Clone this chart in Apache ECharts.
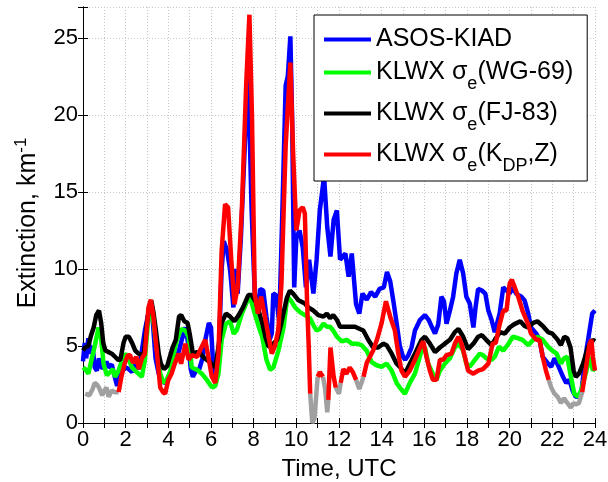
<!DOCTYPE html>
<html lang="en">
<head>
    <meta charset="UTF-8">
    <title>extinction</title>
    <script src="https://cdn.jsdelivr.net/npm/echarts@6/dist/echarts.min.js"></script>
    <style>
        html, body { margin: 0; padding: 0; background: #fff; }
        .box { width: 608px; height: 482px; }
    </style>
</head>
<body>
    <div class="box"></div>
    <script>
        // [hour UTC, extinction km^-1]
        var asos = [[0,4.0],[0.08,5.2],[0.15,4.2],[0.25,5.5],[0.35,4.5],[0.45,5.0],[0.55,3.6],[0.65,3.4],[0.75,4.2],[0.85,3.6],
            [1.0,3.6],[1.1,4.0],[1.2,3.6],[1.35,3.8],[1.45,3.2],[1.6,2.4],[1.7,3.2],[1.85,3.4],[2.0,3.6],[2.15,3.5],[2.3,3.3],
            [2.45,4.0],[2.6,3.5],[2.75,4.6],[2.9,6.0],[3.05,7.0],[3.15,7.7],[3.25,7.0],[3.4,4.2],[3.55,3.2],[3.7,2.7],[3.85,2.6],
            [4.0,3.0],[4.15,3.5],[4.3,3.9],[4.5,4.7],[4.65,5.5],[4.8,6.2],[4.95,5.0],[5.05,3.5],[5.15,3.0],[5.3,3.4],[5.45,3.5],
            [5.6,4.2],[5.75,5.5],[5.9,6.5],[6.0,6.2],[6.1,3.8],[6.25,2.8],[6.35,4.0],[6.5,10.0],[6.6,11.8],[6.75,11.2],[6.9,9.9],
            [7.05,7.5],[7.15,10.0],[7.25,8.4],[7.4,12.0],[7.6,18.5],[7.75,22.5],[7.9,14.0],[8.05,8.4],[8.2,7.2],[8.3,8.7],[8.45,8.6],
            [8.6,6.9],[8.75,5.4],[8.85,5.8],[8.92,8.4],[9.05,8.3],[9.2,6.5],[9.35,14.0],[9.5,21.9],[9.6,22.5],[9.72,25.1],[9.8,20.0],
            [9.9,8.8],[10.0,12.0],[10.15,12.5],[10.3,11.4],[10.45,8.8],[10.6,10.6],[10.8,8.4],[10.95,10.6],[11.1,13.8],[11.3,16.0],
            [11.45,12.7],[11.6,10.8],[11.75,13.2],[11.9,13.8],[12.05,10.6],[12.3,11.0],[12.45,9.5],[12.6,11.0],[12.8,7.7],[12.95,7.1],
            [13.1,8.4],[13.3,8.0],[13.5,8.5],[13.7,8.2],[13.9,8.7],[14.1,8.8],[14.25,9.8],[14.4,9.2],[14.55,7.9],[14.7,6.5],[14.85,5.0],
            [15.0,4.3],[15.1,4.1],[15.25,4.4],[15.4,4.9],[15.56,6.0],[15.8,6.7],[16.03,7.0],[16.2,6.7],[16.33,6.3],[16.5,5.8],[16.65,6.4],
            [16.8,8.2],[16.92,7.9],[17.04,6.45],[17.2,7.3],[17.35,8.2],[17.5,9.7],[17.66,10.6],[17.82,9.7],[17.97,8.2],[18.13,7.75],
            [18.3,6.2],[18.4,7.5],[18.52,8.7],[18.7,8.6],[18.86,8.4],[19.0,7.3],[19.15,6.7],[19.3,5.9],[19.53,7.1],[19.7,8.8],[19.85,8.6],
            [20.0,8.4],[20.15,8.8],[20.3,8.4],[20.55,8.2],[20.7,7.96],[20.87,7.1],[21.0,6.2],[21.25,5.8],[21.4,5.4],[21.55,4.3],[21.8,3.85],
            [21.95,3.65],[22.1,4.2],[22.3,3.65],[22.5,3.0],[22.65,2.6],[22.8,2.8],[22.95,2.1],[23.1,1.7],[23.25,1.7],[23.37,2.1],
            [23.55,4.3],[23.7,5.6],[23.87,7.1],[24.0,7.3]];

        var wg69 = [[0,3.6],[0.1,3.5],[0.25,3.2],[0.4,4.1],[0.55,5.0],[0.73,6.2],[0.84,5.6],[0.97,3.8],[1.12,3.1],[1.27,3.3],[1.4,3.5],
            [1.5,3.0],[1.67,3.4],[1.83,4.1],[1.98,4.5],[2.15,4.1],[2.3,3.6],[2.52,3.3],[2.76,3.0],[2.9,4.1],[3.05,6.6],[3.18,7.7],
            [3.3,6.6],[3.47,4.7],[3.62,3.2],[3.78,2.6],[3.93,2.8],[4.1,3.4],[4.25,4.5],[4.4,5.4],[4.6,6.1],[4.8,6.0],[4.95,5.6],[5.1,3.6],
            [5.35,3.45],[5.57,3.2],[5.8,2.8],[6.05,2.3],[6.2,2.4],[6.35,3.2],[6.5,5.4],[6.7,6.45],[6.9,6.6],[7.06,5.8],[7.2,6.0],[7.45,7.1],
            [7.75,8.1],[7.9,7.85],[8.05,7.1],[8.25,6.2],[8.4,5.6],[8.6,4.1],[8.77,3.45],[8.92,3.6],[9.16,4.7],[9.4,6.2],[9.58,8.2],
            [9.74,7.96],[9.94,7.5],[10.17,7.2],[10.4,7.0],[10.64,6.8],[10.8,6.35],[10.95,6.0],[11.1,6.1],[11.27,6.45],[11.43,6.25],
            [11.58,6.25],[11.73,6.0],[11.9,5.6],[12.13,5.3],[12.36,5.4],[12.6,5.15],[12.83,5.15],[13.06,5.05],[13.3,4.7],[13.53,3.95],
            [13.76,3.75],[14.0,3.65],[14.23,3.85],[14.47,3.4],[14.7,2.6],[14.85,2.3],[15.09,1.9],[15.32,2.6],[15.56,3.2],[15.87,4.7],
            [16.03,4.9],[16.18,3.85],[16.4,3.2],[16.57,2.8],[16.73,3.4],[16.96,3.85],[17.2,4.2],[17.43,4.9],[17.6,5.15],[17.82,4.7],
            [17.97,3.85],[18.13,3.65],[18.37,4.1],[18.6,4.5],[18.75,4.4],[18.9,4.2],[19.15,4.1],[19.3,4.3],[19.5,4.95],[19.7,4.7],
            [19.9,5.05],[20.15,5.6],[20.4,5.5],[20.6,5.4],[20.87,5.05],[21.1,5.4],[21.3,5.6],[21.55,5.4],[21.8,4.95],[22.0,4.7],[22.2,4.5],
            [22.4,3.85],[22.55,4.2],[22.7,4.3],[22.87,3.0],[23.03,1.9],[23.2,1.7],[23.35,2.1],[23.6,3.4],[23.75,4.3],[23.9,3.4],[24.0,3.6]];

        var fj83 = [[0,4.7],[0.1,4.9],[0.25,5.0],[0.38,5.7],[0.5,6.2],[0.62,7.0],[0.75,7.3],[0.85,6.5],[0.95,5.2],[1.05,4.7],[1.2,4.6],
            [1.35,4.5],[1.5,4.3],[1.65,4.1],[1.75,4.1],[1.9,5.2],[2.0,5.6],[2.15,5.6],[2.3,5.2],[2.45,4.7],[2.6,4.5],[2.85,4.4],[3.0,6.5],
            [3.1,7.5],[3.2,7.96],[3.3,7.2],[3.4,6.2],[3.55,4.5],[3.65,3.85],[3.8,3.5],[3.95,3.7],[4.05,4.2],[4.2,4.9],[4.35,5.4],[4.5,6.9],
            [4.6,7.0],[4.75,6.6],[4.9,6.5],[5.0,5.8],[5.15,4.5],[5.35,4.6],[5.5,4.5],[5.7,4.2],[5.95,3.95],[6.2,3.6],[6.3,4.5],[6.4,5.4],
            [6.5,6.5],[6.7,7.1],[6.9,6.9],[7.1,6.6],[7.3,7.0],[7.5,7.5],[7.75,8.3],[7.9,8.3],[8.1,7.85],[8.25,7.2],[8.4,6.5],[8.55,5.6],
            [8.7,4.94],[8.85,5.05],[9.1,5.4],[9.3,6.5],[9.55,8.1],[9.7,8.6],[9.85,8.4],[10.1,7.96],[10.4,7.75],[10.56,7.5],[10.8,7.3],
            [11.03,7.0],[11.27,6.9],[11.43,7.1],[11.58,6.8],[11.73,7.0],[11.9,6.7],[12.05,6.25],[12.5,6.25],[12.75,6.25],[12.98,6.1],
            [13.14,6.0],[13.37,5.4],[13.6,4.9],[13.84,4.9],[14.07,5.15],[14.23,5.05],[14.47,4.5],[14.7,3.85],[14.85,3.65],[15.09,3.2],
            [15.32,3.85],[15.56,4.5],[15.87,5.4],[16.03,5.6],[16.26,5.15],[16.5,4.6],[16.73,4.9],[16.96,5.15],[17.2,5.4],[17.43,5.9],
            [17.6,6.1],[17.82,5.6],[18.05,4.8],[18.3,5.15],[18.52,5.6],[18.7,5.7],[18.9,5.4],[19.15,5.05],[19.35,5.5],[19.55,5.9],
            [19.77,5.8],[20.0,6.2],[20.2,6.4],[20.5,6.6],[20.7,6.3],[20.87,6.2],[21.1,6.5],[21.3,6.6],[21.55,6.3],[21.8,5.9],[22.0,5.8],
            [22.25,5.4],[22.4,5.05],[22.56,5.6],[22.7,5.5],[22.85,4.9],[23.0,3.4],[23.1,3.0],[23.25,3.2],[23.43,3.8],[23.67,4.9],
            [23.9,5.4],[24.0,5.3]];

        // K_DP,Z retrieval: red where valid, gray pieces underneath (null = gap)
        var kdpRed = [[1.67,2.0],[1.8,3.0],[1.95,3.85],[2.1,4.4],[2.2,4.4],[2.35,3.9],[2.5,4.3],[2.62,3.5],[2.76,4.2],[2.9,4.5],
            [3.07,7.5],[3.18,8.0],[3.3,6.9],[3.47,4.5],[3.62,2.3],[3.75,2.0],[3.85,1.9],[4.0,2.8],[4.15,3.2],[4.3,3.85],[4.48,4.5],
            [4.6,3.85],[4.8,5.15],[4.95,4.1],[5.1,4.4],[5.35,4.3],[5.55,4.9],[5.73,5.4],[5.85,4.5],[6.04,3.0],[6.2,2.6],[6.35,4.5],
            [6.5,11.2],[6.66,14.2],[6.8,14.0],[6.95,10.6],[7.1,7.7],[7.25,8.8],[7.45,14.0],[7.65,22.0],[7.8,26.5],[7.92,20.0],[8.05,8.4],
            [8.2,7.1],[8.35,8.2],[8.5,7.1],[8.7,5.6],[8.85,4.5],[9.0,5.0],[9.15,6.0],[9.3,9.0],[9.5,18.0],[9.72,23.4],[9.85,17.5],
            [10.0,12.5],[10.15,13.8],[10.3,14.0],[10.4,13.6],[10.5,8.0],[10.58,5.0],[10.65,1.9],[10.8,null],
            [11.0,3.0],[11.1,3.3],[11.25,3.0],[11.35,null],[11.5,1.5],[11.6,4.9],[11.75,3.0],[11.85,2.3],[11.95,null],
            [12.08,2.6],[12.2,3.5],[12.35,3.2],[12.5,3.6],[12.65,3.3],[12.8,2.8],[12.9,null],
            [13.15,3.0],[13.3,3.9],[13.45,4.3],[13.6,4.7],[13.8,5.5],[14.0,6.5],[14.2,7.9],[14.4,6.9],[14.62,6.0],[14.78,4.5],
            [14.93,3.4],[15.09,3.0],[15.32,3.4],[15.56,4.1],[15.8,4.9],[15.95,5.3],[16.1,4.3],[16.26,3.4],[16.4,2.8],[16.57,2.8],
            [16.73,4.1],[16.88,4.1],[17.04,4.4],[17.27,4.5],[17.43,5.15],[17.6,5.6],[17.74,5.15],[17.9,4.3],[18.05,3.4],[18.3,3.2],
            [18.52,3.4],[18.75,3.5],[19.0,3.85],[19.2,5.15],[19.35,5.2],[19.53,6.4],[19.7,7.3],[19.85,7.3],[20.0,9.05],[20.1,9.3],
            [20.24,8.8],[20.4,8.2],[20.6,7.3],[20.87,6.4],[21.0,5.8],[21.25,5.4],[21.4,5.4],[21.55,4.3],[21.7,3.4],[21.83,2.8],[22.5,null],
            [23.4,2.0],[23.6,3.8],[23.75,5.15],[23.83,5.4],[23.9,4.3],[24.0,3.4]];

        var kdpGray = [[0.1,1.9],[0.3,1.8],[0.45,2.2],[0.55,2.6],[0.65,2.5],[0.75,2.3],[0.9,1.8],[1.0,2.1],[1.1,2.3],[1.2,1.7],
            [1.35,2.1],[1.5,2.0],[1.67,2.0],[1.7,null],
            [10.65,1.9],[10.75,0.0],[10.85,0.3],[11.0,3.0],[11.05,null],
            [11.25,3.0],[11.35,2.2],[11.45,0.7],[11.5,1.5],[11.55,null],
            [11.85,2.3],[12.0,1.9],[12.08,2.6],[12.1,null],
            [12.8,2.8],[12.95,2.2],[13.05,2.6],[13.15,3.0],[13.2,null],
            [21.83,2.8],[21.95,2.3],[22.1,1.9],[22.25,1.7],[22.4,1.3],[22.55,1.6],[22.7,1.3],[22.87,1.0],[23.0,1.3],[23.1,1.2],
            [23.25,1.3],[23.4,2.0]];

        var names = ['ASOS-KIAD', 'KLWX σe(WG-69)', 'KLWX σe(FJ-83)', 'KLWX σe(KDP,Z)'];
        var legendRich = {
            'ASOS-KIAD': '{a|ASOS-KIAD}',
            'KLWX σe(WG-69)': '{m|KLWX σ}{s|e}{m|(WG-69)}',
            'KLWX σe(FJ-83)': '{m|KLWX σ}{s|e}{m|(FJ-83)}',
            'KLWX σe(KDP,Z)': '{m|KLWX σ}{s|e}{m|(K}{s|DP}{m|,Z)}'
        };

        var font = 'Liberation Sans';
        var gridGray = '#c8c8c8';

        function line(name, data, color) {
            return {
                name: name,
                type: 'line',
                data: data,
                showSymbol: false,
                connectNulls: false,
                animation: false,
                color: color,
                lineStyle: { width: 4.5, color: color }
            };
        }

        var chart = echarts.init(document.querySelector('.box'));
        chart.setOption({
            animation: false,
            grid: { left: 83, right: 13, top: 7, bottom: 59, containLabel: false, outerBoundsMode: 'none' },
            legend: {
                data: names,
                orient: 'vertical',
                left: 314,
                top: 15,
                padding: [12, 14, 6, 10],
                itemGap: 8,
                itemWidth: 47,
                itemHeight: 4,
                icon: 'rect',
                selectedMode: false,
                backgroundColor: '#fff',
                borderColor: '#000',
                borderWidth: 1,
                formatter: function (n) { return legendRich[n]; },
                textStyle: {
                    fontFamily: font,
                    color: '#000',
                    rich: {
                        a: { fontFamily: font, fontSize: 25, lineHeight: 29, color: '#000' },
                        m: { fontFamily: font, fontSize: 25, lineHeight: 41, color: '#000' },
                        s: { fontFamily: font, fontSize: 18, lineHeight: 17, verticalAlign: 'bottom', color: '#000' }
                    }
                }
            },
            xAxis: [{
                type: 'value',
                min: 0, max: 24, interval: 1,
                name: 'Time, UTC',
                nameLocation: 'middle',
                nameGap: 34,
                nameTextStyle: { fontFamily: font, fontSize: 24, color: '#000' },
                axisLine: { lineStyle: { color: '#000', width: 1 } },
                axisTick: { inside: true, length: 5, lineStyle: { color: '#000' } },
                axisLabel: {
                    fontFamily: font, fontSize: 22, color: '#000', margin: 6,
                    formatter: function (v) { return v % 2 === 0 ? String(v) : ''; }
                },
                splitLine: { show: true, lineStyle: { color: gridGray, type: [1, 2], width: 1 } }
            }, {
                type: 'value',
                position: 'top',
                min: 0, max: 24, interval: 1,
                axisLine: { lineStyle: { color: '#000', width: 1 } },
                axisTick: { inside: true, length: 5, lineStyle: { color: '#000' } },
                axisLabel: { show: false },
                splitLine: { show: false }
            }],
            yAxis: [{
                type: 'value',
                min: 0, max: 27, interval: 5,
                name: '{a|Extinction, km}{b|-1}',
                nameLocation: 'middle',
                nameGap: 40,
                nameTextStyle: {
                    fontFamily: font, color: '#000',
                    padding: [0, 16, 0, 0],
                    rich: {
                        a: { fontFamily: font, fontSize: 25, lineHeight: 30, color: '#000' },
                        b: { fontFamily: font, fontSize: 17, lineHeight: 16, verticalAlign: 'top', color: '#000' }
                    }
                },
                axisLine: { lineStyle: { color: '#000', width: 1 } },
                axisTick: { inside: true, length: 5, lineStyle: { color: '#000' } },
                axisLabel: {
                    fontFamily: font, fontSize: 22, color: '#000', margin: 5,
                    formatter: function (v) { return v % 5 === 0 ? String(v) : ''; }
                },
                splitLine: { show: true, lineStyle: { color: gridGray, type: [1, 2], width: 1 } }
            }, {
                type: 'value',
                position: 'right',
                min: 0, max: 27, interval: 5,
                axisLine: { lineStyle: { color: '#000', width: 1 } },
                axisTick: { inside: true, length: 5, lineStyle: { color: '#000' } },
                axisLabel: { show: false },
                splitLine: { show: false }
            }],
            series: [
                line(names[0], asos, '#0000ff'),
                line(names[1], wg69, '#00ff00'),
                line(names[2], fj83, '#000000'),
                line('KDP masked', kdpGray, '#a0a0a0'),
                line(names[3], kdpRed, '#ff0000')
            ]
        });
    </script>
</body>
</html>
